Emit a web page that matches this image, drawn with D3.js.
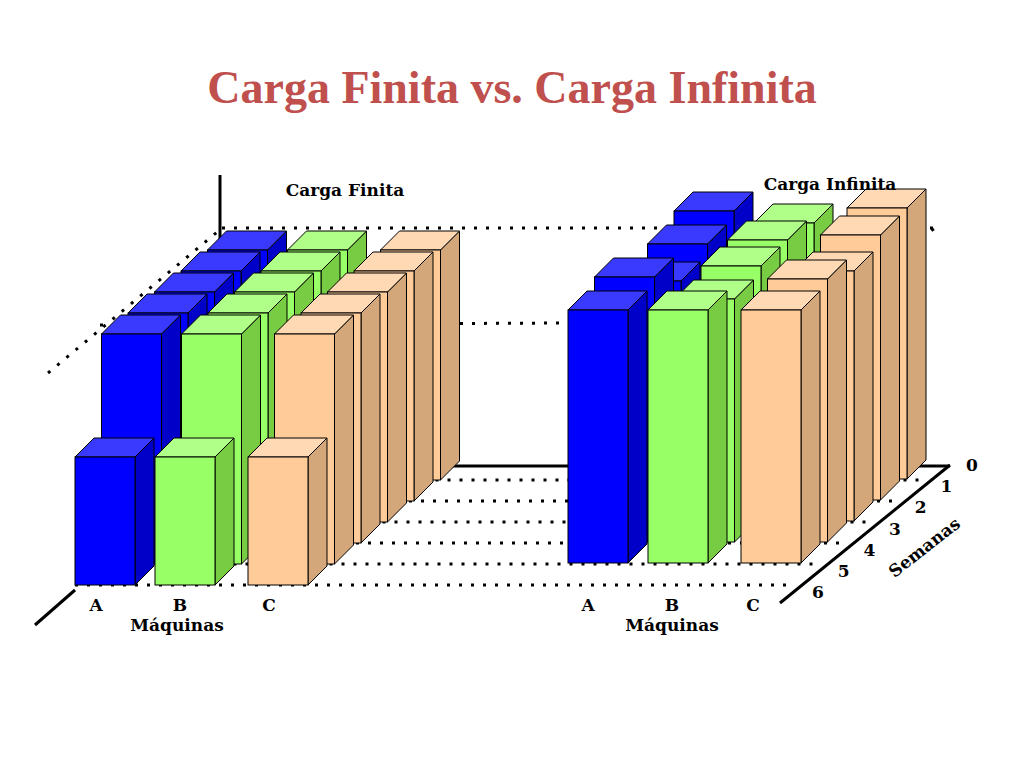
<!DOCTYPE html><html><head><meta charset="utf-8">
<script src="https://cdn.jsdelivr.net/npm/d3@7"></script>
<style>body{margin:0;background:#fff}svg{display:block}</style></head><body>
<svg id="c" width="1024" height="768"></svg>
<script>
const machines=["A","B","C"];
const weeks=[1,2,3,4,5,6];
const weekTicks=["0","1","2","3","4","5","6"];
// load per machine, weeks 1..6 (back to front)
const finitaA=[230,230,230,230,230,128];
const finitaB=[230,230,230,230,230,128];
const finitaC=[230,230,230,230,230,128];
const infinitaA=[268,256,240,265,253,0];
const infinitaB=[256,260,255,243,253,0];
const infinitaC=[271,265,250,263,253,0];
const colors={A:["#0000ff","#0000c8","#3a3aff"],B:["#99ff66","#77cc44","#b0ff88"],C:["#ffcc99","#d4a77b","#ffd9b3"]};

const svg=d3.select("#c");
const hScale=d3.scaleLinear().domain([0,300]).range([0,300]);
const depthX=d3.scaleLinear().domain([0,5]).range([132.5,0]);
const depthY=d3.scaleLinear().domain([0,5]).range([-105,0]);
const mX=d3.scaleOrdinal().domain(machines).range([0,80,173]);
const W=60,DX=19,DY=-19;
const F="'DejaVu Serif',serif";

svg.append("text").attr("x",512).attr("y",103).attr("text-anchor","middle")
 .attr("font-family","'Liberation Serif',serif").attr("font-weight","bold").attr("font-size",46).attr("fill","#c0504d")
 .text("Carga Finita vs. Carga Infinita");

const dot=(x1,y1,x2,y2)=>svg.append("line").attr("x1",x1).attr("y1",y1).attr("x2",x2).attr("y2",y2)
 .attr("stroke","#000").attr("stroke-width",3).attr("stroke-dasharray","3,9");
const sol=(x1,y1,x2,y2)=>svg.append("line").attr("x1",x1).attr("y1",y1).attr("x2",x2).attr("y2",y2)
 .attr("stroke","#000").attr("stroke-width",3);

// ground dotted lines
weeks.forEach((w,i)=>{const y=585+depthY(i);const xe=780+(603-y)*170/138;dot(75+depthX(i),y,xe-8,y);});
sol(435,466,570,466);
sol(220,175,220,250);
sol(35,625,75,590);
// capacity plane
dot(222,228,935,228);
dot(100,325,810,322);
dot(48,373,222,228);
dot(805,322,935,228);
// semanas axis
sol(780,603,950,465);sol(800,466,950,466);
const axS=d3.scaleLinear().domain([0,6]).range([0,1]);
weekTicks.forEach((t,i)=>{const f=axS(i);
 svg.append("text").attr("x",972-f*154).attr("y",471+f*127).attr("text-anchor","middle")
 .attr("font-family",F).attr("font-weight","bold").attr("font-size",17).text(t);});
svg.append("text").attr("transform","translate(928,552) rotate(-38)").attr("text-anchor","middle")
 .attr("font-family",F).attr("font-weight","bold").attr("font-size",17).text("Semanas");

function panel(x0,y0,data){
 const g=svg.append("g");
 weeks.forEach((w,i)=>{
  machines.forEach(m=>{
   const v=data[m][i]; if(!v) return;
   const x=x0+mX(m)+depthX(i), yb=y0+depthY(i), h=hScale(v), yt=yb-h;
   const c=colors[m];
   g.append("path").attr("d",`M${x+W},${yb}L${x+W+DX},${yb+DY}L${x+W+DX},${yt+DY}L${x+W},${yt}Z`).attr("fill",c[1]).attr("stroke","#000");
   g.append("path").attr("d",`M${x},${yt}L${x+DX},${yt+DY}L${x+W+DX},${yt+DY}L${x+W},${yt}Z`).attr("fill",c[2]).attr("stroke","#000");
   g.append("rect").attr("x",x).attr("y",yt).attr("width",W).attr("height",h).attr("fill",c[0]).attr("stroke","#000");
  });
 });
}
panel(75,585,{A:finitaA,B:finitaB,C:finitaC});
panel(541.5,584,{A:infinitaA,B:infinitaB,C:infinitaC});

const lab=(x,y,t,s)=>svg.append("text").attr("x",x).attr("y",y).attr("text-anchor","middle")
 .attr("font-family",F).attr("font-weight","bold").attr("font-size",s).text(t);
lab(345,196,"Carga Finita",17);lab(830,190,"Carga Infinita",17);
[[96,180,269],[588,672,753]].forEach(xs=>machines.forEach((m,i)=>lab(xs[i],611,m,17)));
lab(177,631,"Máquinas",17);lab(672,631,"Máquinas",17);
</script></body></html>
